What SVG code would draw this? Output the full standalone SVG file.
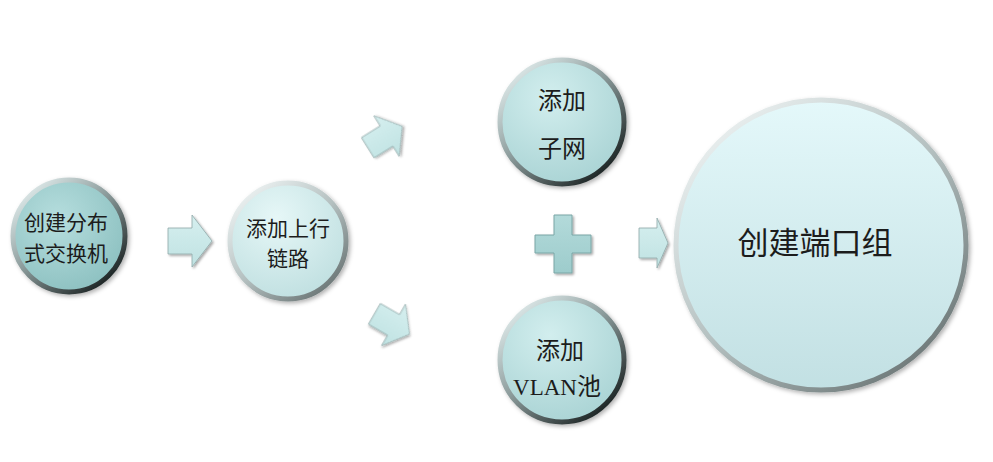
<svg xmlns="http://www.w3.org/2000/svg" width="993" height="462" viewBox="0 0 993 462">
<defs>
  <radialGradient id="fDark" cx="0.4" cy="0.35" r="0.7">
    <stop offset="0" stop-color="#b6dede"/>
    <stop offset="1" stop-color="#8cc0c0"/>
  </radialGradient>
  <radialGradient id="fMid" cx="0.4" cy="0.3" r="0.75">
    <stop offset="0" stop-color="#d2eeee"/>
    <stop offset="1" stop-color="#a9d3d4"/>
  </radialGradient>
  <radialGradient id="fLight" cx="0.4" cy="0.3" r="0.75">
    <stop offset="0" stop-color="#e6f7f7"/>
    <stop offset="1" stop-color="#bfdfe0"/>
  </radialGradient>
  <linearGradient id="fBig" x1="0" y1="0" x2="0" y2="1">
    <stop offset="0" stop-color="#e4f8fa"/>
    <stop offset="1" stop-color="#c2e0e3"/>
  </linearGradient>
  <linearGradient id="rDark" x1="0.15" y1="0.1" x2="0.85" y2="0.9">
    <stop offset="0" stop-color="#d8e4e4"/>
    <stop offset="0.45" stop-color="#8a9a9a"/>
    <stop offset="1" stop-color="#1e2626"/>
  </linearGradient>
  <linearGradient id="rLight" x1="0.15" y1="0.1" x2="0.85" y2="0.9">
    <stop offset="0" stop-color="#e8eeee"/>
    <stop offset="0.5" stop-color="#b4c0c0"/>
    <stop offset="1" stop-color="#6f7a7a"/>
  </linearGradient>
  <linearGradient id="arrowFill" x1="0" y1="0" x2="0" y2="1">
    <stop offset="0" stop-color="#d6efef"/>
    <stop offset="1" stop-color="#bfe2e2"/>
  </linearGradient>
  <linearGradient id="plusFill" x1="0" y1="0" x2="0" y2="1">
    <stop offset="0" stop-color="#b3dada"/>
    <stop offset="1" stop-color="#9dcccc"/>
  </linearGradient>
  <filter id="shadow" x="-20%" y="-20%" width="140%" height="140%">
    <feDropShadow dx="2" dy="2" stdDeviation="2" flood-color="#000" flood-opacity="0.3"/>
  </filter>
  <filter id="ashadow" x="-30%" y="-30%" width="160%" height="160%">
    <feDropShadow dx="1.5" dy="1.5" stdDeviation="1" flood-color="#000" flood-opacity="0.35"/>
  </filter>
  <path id="arrowShape" d="M-22,-13 L2,-13 L2,-26 L22,0 L2,26 L2,13 L-22,13 Z"/>
</defs>
<style>
  .t { font-family: "Noto Sans CJK SC", "Noto Sans", sans-serif; fill: #1c1c1c; text-anchor: middle; }
  .s21 { font-size: 21px; }
  .s24 { font-size: 24px; }
  .s31 { font-size: 31px; }
  .serif { font-family: "Liberation Serif", "Noto Sans CJK SC", serif; }
  .arrow { fill: url(#arrowFill); stroke: #8fa8a8; stroke-width: 0.8; filter: url(#ashadow); }
</style>
<rect width="993" height="462" fill="#ffffff"/>

<g id="connectors">
  <use href="#arrowShape" class="arrow" transform="translate(190,241)"/>
  <use href="#arrowShape" class="arrow" transform="translate(385,137) rotate(-32) scale(0.92)"/>
  <use href="#arrowShape" class="arrow" transform="translate(392,324) rotate(30) scale(0.92)"/>
  <path class="arrow" d="M639,228 L657,228 L657,218 L668,243 L657,268 L657,258 L639,258 Z"/>
  <path d="M554,215 L572,215 L572,235 L591,235 L591,253 L572,253 L572,273 L554,273 L554,253 L535,253 L535,235 L554,235 Z" fill="url(#plusFill)" stroke="#7aa6a6" stroke-width="1" filter="url(#ashadow)"/>
</g>

<g id="node-switch">
  <circle cx="69" cy="236" r="56" fill="url(#fDark)" stroke="url(#rDark)" stroke-width="5" filter="url(#shadow)"/>
  <text class="t s21" x="66" y="230">创建分布</text>
  <text class="t s21" x="66" y="261">式交换机</text>
</g>

<g id="node-uplink">
  <circle cx="288" cy="241" r="58" fill="url(#fLight)" stroke="url(#rLight)" stroke-width="5" filter="url(#shadow)"/>
  <text class="t s21" x="288" y="236">添加上行</text>
  <text class="t s21" x="288" y="266">链路</text>
</g>

<g id="node-subnet">
  <circle cx="562" cy="122" r="62" fill="url(#fMid)" stroke="url(#rDark)" stroke-width="5" filter="url(#shadow)"/>
  <text class="t s24" x="562" y="109">添加</text>
  <text class="t s24" x="562" y="157">子网</text>
</g>

<g id="node-vlan">
  <circle cx="562" cy="360" r="62" fill="url(#fMid)" stroke="url(#rDark)" stroke-width="5" filter="url(#shadow)"/>
  <text class="t s24" x="560" y="359">添加</text>
  <text class="t s24" x="557" y="395"><tspan class="serif" font-size="23">VLAN</tspan>池</text>
</g>

<g id="node-portgroup">
  <circle cx="821" cy="245" r="145" fill="url(#fBig)" stroke="url(#rLight)" stroke-width="5" filter="url(#shadow)"/>
  <text class="t s31" x="815" y="254">创建端口组</text>
</g>
</svg>
